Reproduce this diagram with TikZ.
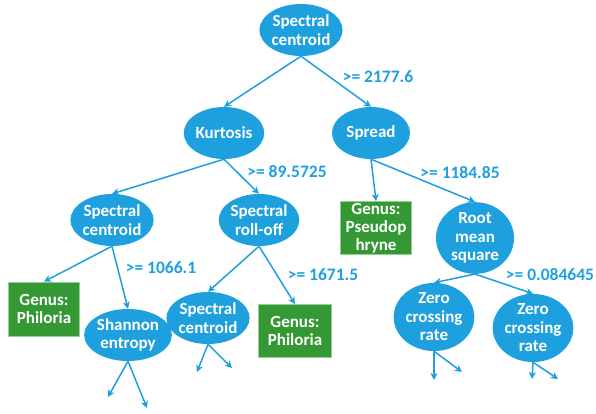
\documentclass[tikz,border=0pt]{standalone}
\usepackage{fontspec}
\setmainfont{Carlito}
\usetikzlibrary{arrows.meta,shapes.geometric}
\definecolor{nodeblue}{RGB}{30,160,222}
\definecolor{leafgreen}{RGB}{52,153,52}
\definecolor{leafedge}{RGB}{150,205,150}
\begin{document}
\begin{tikzpicture}[x=1pt,y=-1pt,
  feat/.style={ellipse,fill=nodeblue,text=white,minimum width=78pt,minimum height=52pt,inner sep=0pt,
    font=\fontsize{17}{18.5}\selectfont\bfseries,align=center},
  leaf/.style={rectangle,fill=leafgreen,draw=leafedge,line width=0.8pt,text=white,inner sep=0pt,
    font=\fontsize{17}{18}\selectfont\bfseries,align=center},
  cond/.style={text=nodeblue,font=\fontsize{17.5}{18}\selectfont\bfseries,inner sep=0pt},
  edge/.style={draw=nodeblue,line width=1.5pt,-{Stealth[length=7pt,width=7pt,inset=2pt]}}
]
\useasboundingbox (0,0) rectangle (596,413);
% nodes
\node[feat] (root) at (301,30) {Spectral\\centroid};
\node[feat] (kurt) at (224,133) {Kurtosis};
\node[feat] (spread) at (371,133) {Spread};
\node[feat] (sc2) at (112,220) {Spectral\\centroid};
\node[feat] (roll) at (259,220) {Spectral\\roll-off};
\node[leaf,minimum width=71pt,minimum height=54pt] (phil1) at (44,309) {Genus:\\Philoria};
\node[feat] (shan) at (128,335) {Shannon\\entropy};
\node[feat] (sc3) at (208,318) {Spectral\\centroid};
\node[leaf,minimum width=73pt,minimum height=53pt] (phil2) at (295,331) {Genus:\\Philoria};
\node[leaf,minimum width=71pt,minimum height=53pt] (pseudo) at (376,228) {Genus:\\Pseudop\\hryne};
\node[feat] (rms) at (475,238) {Root\\mean\\square};
\node[feat] (zcr1) at (434,317) {Zero\\crossing\\rate};
\node[feat] (zcr2) at (533,328) {Zero\\crossing\\rate};
% free ends
\coordinate (s1) at (108,397);
\coordinate (s2) at (147,408);
\coordinate (c1) at (197,372);
\coordinate (c2) at (232,368);
\coordinate (z1) at (434,380);
\coordinate (z2) at (462,372);
\coordinate (z3) at (532,379);
\coordinate (z4) at (558,379);
% edges
\draw[edge] (root.south) -- (kurt.north);
\draw[edge] (root.south) -- (spread.north);
\draw[edge] (kurt.south) -- (sc2.north);
\draw[edge] (kurt.south) -- (roll.north);
\draw[edge] (sc2.south) -- (phil1.north);
\draw[edge] (sc2.south) -- (shan.north);
\draw[edge] (roll.south) -- (sc3.north);
\draw[edge] (roll.south) -- (phil2.north);
\draw[edge] (spread.south) -- (pseudo.north);
\draw[edge] (spread.south) -- (rms.north);
\draw[edge] (rms.south) -- (zcr1.north);
\draw[edge] (rms.south) -- (zcr2.north);
\draw[edge] (shan.south) -- (s1);
\draw[edge] (shan.south) -- (s2);
\draw[edge] (sc3.south) -- (c1);
\draw[edge] (sc3.south) -- (c2);
\draw[edge] (zcr1.south) -- (z1);
\draw[edge] (zcr1.south) -- (z2);
\draw[edge] (zcr2.south) -- (z3);
\draw[edge] (zcr2.south) -- (z4);
% labels
\node[cond] (l1) at (378,77) {>= 2177.6};
\node[cond] (l2) at (287,172) {>= 89.5725};
\node[cond] (l3) at (161,268) {>= 1066.1};
\node[cond] (l4) at (323,275) {>= 1671.5};
\node[cond] (l5) at (460,173) {>= 1184.85};
\node[cond] (l6) at (550,275) {>= 0.084645};
\end{tikzpicture}
\end{document}
